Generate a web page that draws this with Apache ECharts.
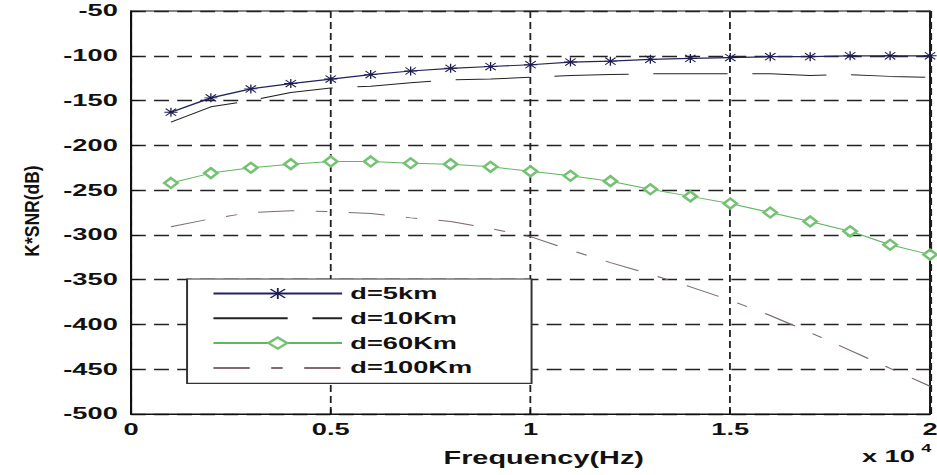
<!DOCTYPE html>
<html>
<head>
<meta charset="utf-8">
<script src="https://cdn.jsdelivr.net/npm/echarts@6/dist/echarts.min.js"></script>
<style>
  html, body { margin: 0; padding: 0; background: #fff; }
  #wrap { width: 937px; height: 475px; overflow: hidden; }
  /* the source figure is stretched sideways, so draw narrow and widen it */
  #main { width: 568px; height: 475px; transform: scaleX(1.6496); transform-origin: 0 0; }
</style>
</head>
<body>
<div id="wrap"><div id="main"></div></div>
<script>
// frequency (Hz)
var freq = [1000, 2000, 3000, 4000, 5000, 6000, 7000, 8000, 9000, 10000,
  11000, 12000, 13000, 14000, 15000, 16000, 17000, 18000, 19000, 20000]
// K*SNR (dB) per distance
var d5 = [-163, -147, -137, -131, -126, -121, -117, -114, -112, -110,
  -107, -106, -104, -103, -102, -101, -101, -100, -100, -100]
var d10 = [-174, -157, -150, -141, -136, -134, -130, -127, -126, -124,
  -122, -121, -120, -120, -120, -120, -122, -121, -123, -124]
var d60 = [-242, -231, -225, -221, -218, -218, -220, -221, -224, -229,
  -234, -240, -249, -257, -265, -275, -285, -296, -311, -322]
var d100 = [-291, -282, -275, -273, -274, -276, -281, -285, -293, -302,
  -317, -331, -344, -358, -373, -390, -409, -429, -449, -469]
var names = ['d=5km', 'd=10Km', 'd=60Km', 'd=100Km']
var xTicks = ['0', '0.5', '1', '1.5', '2']

var font = 'Liberation Sans, Arial, sans-serif'
var star = 'path://M0,4.5H10V5.5H0Z M4.5,0H5.5V10H4.5Z M0.7,1.4L1.4,0.7L9.3,8.6L8.6,9.3Z M8.6,0.7L9.3,1.4L1.4,9.3L0.7,8.6Z'

function pairs(vals) {
  return freq.map(function (f, i) { return [f, vals[i]] })
}

var chart = echarts.init(document.getElementById('main'), null, { renderer: 'svg' })
chart.setOption({
  animation: false,
  backgroundColor: '#fff',
  grid: {
    show: true,
    left: 79.4,
    right: 4.2,
    top: 11,
    bottom: 61,
    borderColor: '#111',
    borderWidth: 1.2,
    containLabel: false,
    outerBoundsMode: 'none'
  },
  legend: {
    orient: 'vertical',
    left: 113.4,
    top: 279,
    padding: [6, 36, 7, 15],
    itemWidth: 78,
    itemHeight: 14,
    itemGap: 7.8,
    borderColor: '#333',
    borderWidth: 1.2,
    borderRadius: 0,
    backgroundColor: '#fff',
    textStyle: { fontSize: 16.5, fontWeight: 'bold', color: '#111', fontFamily: font },
    data: names
  },
  xAxis: {
    type: 'value',
    min: 0,
    max: 20000,
    interval: 5000,
    name: 'Frequency(Hz)',
    nameLocation: 'middle',
    nameGap: 35,
    nameTextStyle: { fontSize: 17.5, fontWeight: 'bold', color: '#111', fontFamily: font, padding: [0, 0, 0, 16] },
    axisLine: { show: true, lineStyle: { color: '#111', width: 1.2 } },
    axisTick: { show: true, inside: true, length: 5, lineStyle: { color: '#111' } },
    axisLabel: {
      margin: 7,
      fontSize: 16.5,
      fontWeight: 'bold',
      color: '#111',
      fontFamily: font,
      formatter: function (v) { return xTicks[Math.round(v / 5000)] }
    },
    splitLine: { show: true, lineStyle: { color: '#222', width: 1.1, type: [7, 4] } }
  },
  yAxis: {
    type: 'value',
    min: -500,
    max: -50,
    interval: 50,
    axisLine: { show: true, lineStyle: { color: '#111', width: 1.2 } },
    axisTick: { show: true, inside: true, length: 5, lineStyle: { color: '#111' } },
    axisLabel: { margin: 8, fontSize: 16.5, fontWeight: 'bold', color: '#111', fontFamily: font },
    splitLine: { show: true, lineStyle: { color: '#222', width: 1.3, type: [9, 5] } }
  },
  graphic: [
    {
      type: 'text',
      x: 19.4,
      y: 211,
      rotation: Math.PI / 2,
      scaleY: 0.7,
      style: {
        text: 'K*SNR(dB)',
        fontSize: 17.5,
        fontWeight: 'bold',
        fontFamily: font,
        fill: '#111',
        align: 'center',
        verticalAlign: 'middle',
        textAlign: 'center',
        textVerticalAlign: 'middle'
      }
    },
    {
      type: 'text',
      x: 522.5,
      y: 457,
      style: {
        text: 'x 10', fontSize: 16.5, fontWeight: 'bold', fontFamily: font, fill: '#111',
        align: 'left', verticalAlign: 'middle', textAlign: 'left', textVerticalAlign: 'middle'
      }
    },
    {
      type: 'text',
      x: 558.5,
      y: 448,
      style: {
        text: '4', fontSize: 11, fontWeight: 'bold', fontFamily: font, fill: '#111',
        align: 'left', verticalAlign: 'middle', textAlign: 'left', textVerticalAlign: 'middle'
      }
    }
  ],
  series: [
    {
      name: names[0],
      type: 'line',
      data: pairs(d5),
      symbol: star,
      symbolSize: [8, 9],
      lineStyle: { color: '#23235e', width: 1.2 },
      itemStyle: { color: '#1c1c50', borderWidth: 0 },
      z: 4
    },
    {
      name: names[1],
      type: 'line',
      data: pairs(d10),
      symbol: 'none',
      lineStyle: { color: '#222', width: 1, type: [45, 15] },
      // no marker, so keep the legend icon a plain line
      itemStyle: { color: '#222', opacity: 0 }
    },
    {
      name: names[2],
      type: 'line',
      data: pairs(d60),
      symbol: 'emptyDiamond',
      symbolSize: [8, 10],
      lineStyle: { color: '#5fb85f', width: 1 },
      itemStyle: { color: '#72c272', borderWidth: 1 },
      z: 3
    },
    {
      name: names[3],
      type: 'line',
      data: pairs(d100),
      symbol: 'none',
      lineStyle: { color: '#806a6d', width: 1, type: [22, 13, 7, 13] },
      itemStyle: { color: '#806a6d', opacity: 0 }
    }
  ]
})
</script>
</body>
</html>
